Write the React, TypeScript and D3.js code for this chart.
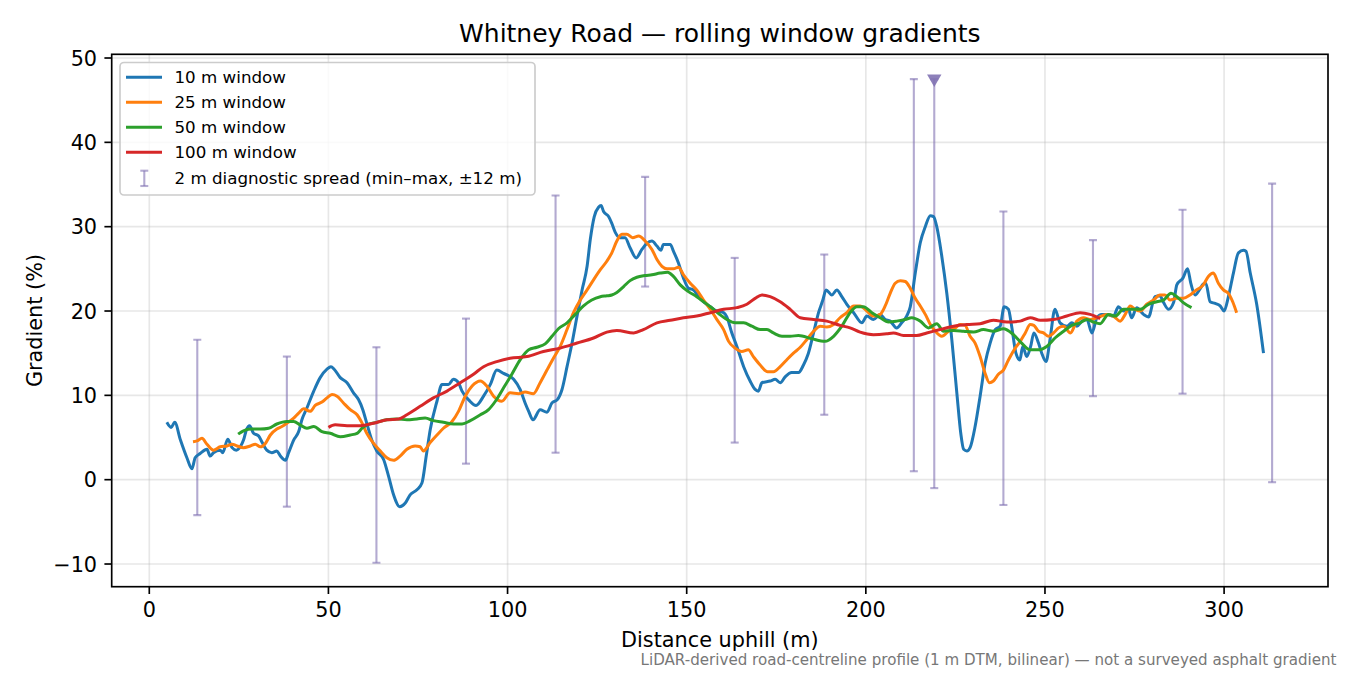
import React from 'react';
import * as d3 from 'd3';

const W = 1350;
const H = 675;
const AX = { left: 111.7, right: 1328, top: 54.3, bottom: 586.7 };
const FONT = 'DejaVu Sans, sans-serif';

// 10 m window
const dist10 = [4.9, 6.1, 7.1, 8.7, 10.5, 11.9, 12.8, 14.2, 16.1, 17.0, 17.9, 19.8, 20.5, 21.9, 23.1, 24.3, 25.4, 26.3, 27.1, 28.0, 29.1, 30.5, 31.4, 32.8, 34.2, 35.6, 36.6, 38.0, 38.9, 40.3, 41.7, 42.6, 44.0, 45.9, 47.7, 49.6, 50.7, 51.6, 53.3, 55.2, 57.0, 58.4, 59.6, 60.7, 62.1, 63.5, 65.4, 66.8, 68.2, 69.9, 71.4, 72.8, 74.7, 76.1, 77.3, 78.4, 80.3, 81.7, 83.5, 84.9, 86.3, 87.3, 89.3, 91.2, 93.3, 95.2, 97.0, 98.9, 101.7, 103.5, 104.9, 105.9, 107.1, 109.1, 111.0, 112.4, 113.9, 115.2, 116.6, 118.0, 119.4, 120.8, 122.2, 123.1, 124.2, 125.4, 126.1, 126.8, 128.2, 129.1, 130.1, 131.4, 132.8, 134.2, 135.9, 137.5, 138.8, 140.3, 141.7, 142.8, 143.5, 145.4, 146.3, 147.7, 149.1, 150.5, 151.9, 153.3, 154.7, 156.6, 158.4, 160.3, 161.2, 162.6, 164.0, 165.9, 167.7, 169.1, 170.0, 171.0, 173.3, 174.7, 176.1, 177.5, 179.3, 181.2, 182.6, 183.9, 185.4, 186.8, 188.0, 188.9, 190.5, 191.9, 193.3, 194.7, 196.6, 198.9, 200.3, 202.1, 204.0, 205.4, 206.8, 208.6, 210.0, 211.4, 212.4, 213.8, 215.2, 216.6, 218.0, 218.9, 219.8, 221.2, 222.6, 224.0, 225.4, 226.5, 227.3, 228.2, 229.1, 230.5, 231.9, 233.3, 234.7, 236.1, 237.5, 238.6, 239.8, 240.7, 241.9, 243.0, 243.8, 244.9, 246.0, 246.9, 248.2, 249.1, 250.3, 251.4, 252.8, 254.2, 256.1, 257.5, 258.9, 260.3, 261.7, 263.1, 264.5, 265.8, 267.3, 269.1, 270.5, 271.9, 273.3, 274.2, 275.6, 277.5, 278.9, 280.7, 282.1, 283.1, 284.5, 285.9, 286.8, 288.5, 289.8, 290.7, 291.9, 293.1, 294.2, 294.9, 296.1, 297.5, 298.9, 300.0, 301.2, 302.6, 304.0, 305.4, 306.1, 307.3, 309.1, 311.0];
const grad10 = [6.8, 6.2, 6.8, 4.7, 2.6, 1.3, 2.6, 3.1, 3.6, 2.8, 3.2, 3.5, 3.2, 4.8, 3.8, 3.5, 3.9, 4.7, 5.9, 6.4, 5.5, 5.2, 4.5, 3.5, 3.2, 3.4, 2.8, 2.3, 3.2, 4.7, 5.7, 7.1, 8.5, 10.5, 12.1, 13.1, 13.4, 13.1, 12.1, 11.5, 10.3, 9.5, 8.3, 6.7, 4.7, 3.4, 2.4, 0.4, -1.8, -3.2, -2.8, -1.8, -1.2, -0.4, 2.8, 5.9, 9.3, 11.3, 11.3, 11.9, 11.5, 10.5, 9.4, 8.8, 9.9, 11.3, 13.0, 12.6, 11.9, 10.7, 9.1, 8.1, 7.1, 8.3, 8.0, 9.1, 9.5, 10.7, 13.4, 16.2, 19.4, 22.5, 25.3, 28.5, 31.2, 32.3, 32.5, 31.8, 31.2, 30.4, 29.3, 28.7, 28.7, 27.5, 26.3, 27.3, 28.0, 28.3, 27.7, 27.2, 27.9, 27.9, 27.1, 25.7, 23.9, 22.7, 22.5, 21.7, 21.1, 20.5, 20.0, 19.8, 19.3, 17.4, 15.8, 13.4, 11.7, 10.7, 10.5, 11.5, 11.7, 11.9, 11.5, 12.2, 12.7, 12.7, 13.6, 14.9, 17.4, 19.8, 21.3, 22.5, 21.9, 22.5, 21.7, 20.8, 19.8, 18.6, 19.4, 19.0, 19.6, 19.0, 18.8, 18.0, 18.6, 19.4, 20.5, 24.5, 28.1, 30.0, 31.3, 31.2, 30.0, 26.5, 22.1, 16.6, 10.3, 5.5, 3.6, 3.4, 3.8, 6.3, 9.9, 13.8, 16.2, 17.8, 18.2, 20.5, 20.2, 18.2, 15.0, 14.2, 15.8, 14.6, 15.8, 17.4, 16.2, 15.0, 14.0, 16.6, 20.2, 18.6, 18.2, 18.6, 18.2, 18.8, 19.0, 17.4, 19.2, 19.6, 19.6, 19.4, 20.5, 20.0, 20.2, 19.2, 20.4, 19.6, 19.3, 21.7, 21.8, 21.0, 20.2, 21.0, 23.1, 23.9, 25.0, 23.3, 21.9, 22.5, 23.2, 23.3, 21.1, 20.9, 20.6, 20.0, 21.7, 24.5, 26.9, 27.2, 27.1, 24.5, 20.8, 15.0];

// 25 m window
const dist25 = [12.2, 13.3, 14.7, 16.1, 17.9, 19.8, 21.7, 23.1, 24.5, 26.3, 28.2, 29.6, 31.0, 32.4, 33.8, 35.6, 37.0, 38.4, 40.3, 41.7, 43.1, 44.9, 46.3, 48.2, 49.6, 51.0, 52.4, 54.2, 56.1, 58.0, 59.4, 60.7, 62.6, 64.5, 66.3, 68.2, 70.0, 71.9, 74.2, 75.6, 76.5, 78.4, 80.3, 82.1, 84.5, 86.3, 88.2, 90.1, 92.4, 94.2, 96.1, 98.4, 100.7, 103.1, 104.9, 107.2, 109.1, 111.0, 112.8, 114.7, 116.6, 118.4, 120.3, 122.2, 124.0, 125.9, 127.7, 129.1, 130.5, 131.9, 133.3, 134.9, 136.6, 138.4, 140.3, 141.7, 143.1, 144.5, 146.3, 147.7, 149.1, 151.0, 152.8, 154.7, 156.6, 158.4, 160.3, 161.7, 163.5, 165.4, 167.2, 168.6, 170.5, 172.6, 174.2, 176.1, 177.9, 179.8, 181.7, 183.5, 185.4, 187.3, 189.1, 191.0, 192.8, 194.7, 196.6, 198.4, 200.3, 202.1, 204.0, 205.4, 206.8, 208.2, 209.6, 211.0, 212.4, 213.8, 215.2, 216.6, 218.0, 219.4, 221.2, 223.1, 225.0, 226.3, 227.7, 229.1, 230.5, 231.9, 233.3, 234.5, 235.6, 237.0, 238.4, 239.8, 241.7, 243.1, 244.5, 245.9, 246.9, 248.2, 249.6, 251.0, 252.4, 253.8, 255.2, 257.1, 258.9, 260.8, 262.6, 264.5, 267.3, 269.1, 271.0, 272.4, 273.8, 275.2, 276.6, 278.4, 280.3, 282.1, 283.5, 284.9, 286.8, 288.6, 290.5, 292.3, 294.2, 295.6, 297.0, 298.4, 299.8, 301.2, 302.4, 303.5];
const grad25 = [4.5, 4.6, 4.9, 4.2, 3.5, 3.9, 4.0, 4.2, 4.0, 3.8, 4.0, 4.2, 3.9, 4.3, 5.3, 6.0, 6.3, 6.7, 7.3, 7.9, 8.4, 8.1, 8.8, 9.2, 9.7, 10.1, 9.9, 9.1, 8.3, 7.7, 6.7, 5.5, 4.3, 3.4, 2.6, 2.3, 2.8, 3.6, 4.0, 3.9, 3.4, 4.4, 5.3, 6.1, 6.9, 8.1, 9.9, 11.1, 11.7, 11.1, 9.9, 9.3, 10.3, 10.2, 10.4, 10.2, 11.5, 13.0, 14.4, 15.8, 17.8, 19.8, 21.3, 22.5, 23.7, 24.9, 25.9, 26.9, 28.3, 29.1, 29.1, 28.7, 28.9, 28.3, 27.3, 26.1, 25.3, 25.0, 25.0, 25.2, 24.3, 23.3, 22.5, 21.3, 20.2, 19.0, 17.8, 16.4, 15.6, 15.2, 15.4, 14.6, 13.6, 12.8, 12.8, 13.4, 14.2, 15.0, 15.7, 16.6, 17.6, 18.2, 18.1, 18.4, 19.2, 19.8, 20.6, 20.6, 20.0, 19.4, 19.6, 20.6, 22.1, 23.3, 23.6, 23.5, 22.7, 21.5, 20.6, 19.6, 18.4, 17.6, 17.0, 17.6, 18.0, 18.4, 18.3, 17.0, 16.2, 14.6, 12.6, 11.5, 11.7, 12.5, 13.0, 14.2, 15.6, 16.4, 17.4, 18.4, 18.3, 17.6, 17.4, 17.0, 17.4, 18.0, 18.2, 17.4, 18.8, 19.2, 19.0, 19.2, 19.6, 19.4, 18.8, 19.6, 20.6, 20.2, 20.0, 20.8, 21.3, 21.9, 21.9, 21.3, 21.5, 21.5, 21.9, 22.5, 23.1, 24.1, 24.5, 23.3, 22.5, 22.1, 21.1, 19.8];

// 50 m window
const dist50 = [24.8, 26.3, 28.2, 31.0, 33.3, 35.6, 38.4, 40.3, 42.1, 44.0, 45.9, 48.2, 50.5, 53.3, 56.1, 58.0, 59.4, 60.7, 63.5, 66.3, 69.1, 71.9, 74.7, 77.0, 79.3, 82.1, 84.9, 87.3, 89.6, 92.4, 94.7, 96.6, 98.9, 101.2, 103.5, 105.9, 108.2, 110.5, 112.4, 114.2, 116.6, 118.9, 121.2, 123.5, 125.9, 127.7, 129.1, 130.5, 132.4, 134.2, 136.1, 138.4, 140.3, 142.6, 144.7, 146.3, 148.2, 150.5, 152.8, 154.7, 156.6, 158.9, 161.2, 163.5, 165.9, 168.2, 170.5, 172.4, 174.2, 176.6, 178.9, 181.2, 185.0, 188.6, 191.0, 193.3, 195.6, 197.5, 199.3, 201.7, 204.0, 206.3, 208.6, 211.0, 212.8, 215.2, 217.5, 219.8, 221.7, 224.5, 227.3, 230.1, 232.8, 235.6, 238.4, 241.2, 243.5, 245.9, 248.2, 250.5, 252.8, 255.2, 257.5, 259.8, 261.7, 263.5, 265.4, 267.7, 269.6, 271.9, 274.2, 276.6, 278.9, 281.2, 283.1, 285.2, 286.8, 288.6, 290.9];
const grad50 = [5.4, 5.8, 6.0, 6.0, 6.1, 6.6, 6.9, 6.9, 6.5, 6.1, 6.3, 5.7, 5.5, 5.1, 5.3, 5.5, 6.1, 6.5, 6.8, 7.1, 7.2, 7.1, 7.2, 7.3, 7.0, 6.8, 6.6, 6.6, 7.0, 7.7, 8.3, 9.3, 10.9, 12.5, 14.2, 15.4, 15.7, 16.1, 17.0, 17.9, 18.6, 19.6, 20.6, 21.3, 21.7, 21.8, 21.9, 22.2, 22.9, 23.6, 24.0, 24.2, 24.3, 24.5, 24.6, 24.1, 23.1, 22.3, 21.7, 21.1, 20.5, 19.7, 19.0, 18.6, 18.6, 18.2, 17.8, 17.8, 17.4, 17.0, 17.0, 17.1, 16.7, 16.4, 17.0, 18.2, 19.8, 20.5, 20.5, 19.8, 19.2, 18.7, 18.8, 19.0, 19.2, 18.8, 18.0, 18.5, 17.6, 17.7, 17.6, 17.5, 17.8, 17.6, 17.9, 17.2, 16.2, 15.4, 15.4, 15.8, 16.8, 17.6, 18.3, 18.6, 19.0, 18.7, 18.5, 19.6, 19.4, 20.2, 20.2, 20.2, 20.8, 21.1, 21.3, 22.1, 21.7, 21.0, 20.4];

// 100 m window
const dist100 = [50.0, 51.9, 55.2, 58.9, 62.6, 66.3, 69.6, 71.9, 75.6, 79.3, 83.1, 86.8, 90.5, 93.3, 97.0, 100.7, 105.4, 110.0, 114.7, 119.4, 124.0, 127.7, 130.5, 135.2, 137.9, 141.7, 145.4, 149.1, 152.8, 156.6, 160.3, 164.0, 166.8, 169.1, 171.0, 173.3, 176.1, 178.9, 181.7, 185.4, 189.1, 192.8, 195.6, 198.4, 202.1, 205.8, 207.7, 210.5, 214.2, 217.0, 220.7, 224.5, 228.2, 231.9, 235.6, 239.4, 243.1, 245.9, 248.7, 252.4, 256.1, 259.8, 262.6, 265.4];
const grad100 = [6.2, 6.5, 6.4, 6.4, 6.7, 7.1, 7.2, 7.7, 8.7, 9.7, 10.5, 11.5, 12.5, 13.4, 14.0, 14.4, 14.6, 15.2, 15.6, 16.2, 16.8, 17.5, 17.7, 17.4, 17.8, 18.6, 18.9, 19.2, 19.4, 19.8, 20.2, 20.4, 20.8, 21.5, 21.9, 21.7, 21.1, 20.2, 19.2, 19.0, 18.8, 18.3, 18.0, 17.5, 17.2, 17.3, 17.4, 17.1, 17.1, 17.4, 17.8, 18.2, 18.4, 18.5, 18.9, 18.7, 18.8, 19.2, 18.9, 19.0, 19.4, 19.8, 19.6, 19.1];

// 2 m diagnostic spread (min–max over ±12 m)
const diagX = [13.4, 38.4, 63.4, 88.4, 113.4, 138.4, 163.4, 188.4, 213.4, 219.1, 238.4, 263.4, 288.4, 313.4];
const diagMin = [-4.2, -3.2, -9.85, 1.9, 3.2, 22.9, 4.4, 7.7, 1.0, -1.0, -3.0, 9.9, 10.2, -0.3];
const diagMax = [16.6, 14.6, 15.7, 19.1, 33.7, 35.9, 26.3, 26.7, 47.5, 47.5, 31.8, 28.4, 32.0, 35.1];
const clippedX = [219.1];
const clippedY = [47.5];

const xTicks = [0, 50, 100, 150, 200, 250, 300];
const yTicks = [-10, 0, 10, 20, 30, 40, 50];

const seriesNames = ['10 m window', '25 m window', '50 m window', '100 m window'];
const seriesColors = ['#1f77b4', '#ff7f0e', '#2ca02c', '#d62728'];
const seriesDist = [dist10, dist25, dist50, dist100];
const seriesGrad = [grad10, grad25, grad50, grad100];

const DIAG_COLOR = '#8172b2';

export default function App() {
  const x = d3.scaleLinear().domain([-10.49, 329.0]).range([AX.left, AX.right]);
  const y = d3.scaleLinear().domain([-12.69, 50.44]).range([AX.bottom, AX.top]);

  const line = d3
    .line<[number, number]>()
    .x((d) => x(d[0]))
    .y((d) => y(d[1]))
    .curve(d3.curveMonotoneX);

  const fmt = (v: number) => (v < 0 ? '\u2212' + Math.abs(v) : String(v));
  const tri = d3.symbol().type(d3.symbolTriangle).size(90)();

  const legendRows = [77.3, 102.3, 127.3, 152.3];

  return (
    <svg
      width={W}
      height={H}
      viewBox={`0 0 ${W} ${H}`}
      style={{ position: 'absolute', left: 0, top: 0, background: '#fff' }}
      fontFamily={FONT}
    >
      <rect x={0} y={0} width={W} height={H} fill="#fff" />
      <defs>
        <clipPath id="plotclip">
          <rect x={AX.left} y={AX.top} width={AX.right - AX.left} height={AX.bottom - AX.top} />
        </clipPath>
      </defs>

      {/* grid */}
      <g stroke="#b0b0b0" strokeOpacity={0.3} strokeWidth={1.67}>
        {xTicks.map((t) => (
          <line key={'gx' + t} x1={x(t)} x2={x(t)} y1={AX.top} y2={AX.bottom} />
        ))}
        {yTicks.map((t) => (
          <line key={'gy' + t} x1={AX.left} x2={AX.right} y1={y(t)} y2={y(t)} />
        ))}
      </g>

      <g clipPath="url(#plotclip)">
        {/* error bars */}
        <g stroke={DIAG_COLOR} strokeOpacity={0.6} strokeWidth={2.1}>
          {diagX.map((d, i) => (
            <g key={'eb' + i}>
              <line x1={x(d)} x2={x(d)} y1={y(diagMin[i])} y2={y(diagMax[i])} />
              <line x1={x(d) - 4} x2={x(d) + 4} y1={y(diagMin[i])} y2={y(diagMin[i])} />
              <line x1={x(d) - 4} x2={x(d) + 4} y1={y(diagMax[i])} y2={y(diagMax[i])} />
            </g>
          ))}
        </g>
        {/* lines */}
        {seriesDist.map((ds, si) => (
          <path
            key={'s' + si}
            d={line(ds.map((d, i) => [d, seriesGrad[si][i]] as [number, number])) || ''}
            fill="none"
            stroke={seriesColors[si]}
            strokeWidth={3}
            strokeLinejoin="round"
            strokeLinecap="butt"
          />
        ))}
        {/* clipped marker */}
        {clippedX.map((d, i) => (
          <path
            key={'cm' + i}
            d={tri || ''}
            transform={`translate(${x(d)},${y(clippedY[i]) - 0.5}) rotate(180)`}
            fill={DIAG_COLOR}
            fillOpacity={0.9}
          />
        ))}
      </g>

      {/* spines */}
      <rect
        x={AX.left}
        y={AX.top}
        width={AX.right - AX.left}
        height={AX.bottom - AX.top}
        fill="none"
        stroke="#000"
        strokeWidth={1.67}
      />

      {/* x ticks */}
      {xTicks.map((t) => (
        <g key={'xt' + t}>
          <line x1={x(t)} x2={x(t)} y1={AX.bottom} y2={AX.bottom + 7.3} stroke="#000" strokeWidth={1.67} />
          <text x={x(t)} y={617.3} textAnchor="middle" fontSize={20.8} fill="#000">
            {fmt(t)}
          </text>
        </g>
      ))}
      {/* y ticks */}
      {yTicks.map((t) => (
        <g key={'yt' + t}>
          <line x1={AX.left - 7.3} x2={AX.left} y1={y(t)} y2={y(t)} stroke="#000" strokeWidth={1.67} />
          <text x={AX.left - 14.6} y={y(t) + 7.6} textAnchor="end" fontSize={20.8} fill="#000">
            {fmt(t)}
          </text>
        </g>
      ))}

      {/* labels */}
      <text x={(AX.left + AX.right) / 2} y={42.3} textAnchor="middle" fontSize={25} fill="#000">
        Whitney Road — rolling window gradients
      </text>
      <text x={(AX.left + AX.right) / 2} y={646.7} textAnchor="middle" fontSize={20.8} fill="#000">
        Distance uphill (m)
      </text>
      <text
        transform={`translate(41.5,${(AX.top + AX.bottom) / 2}) rotate(-90)`}
        textAnchor="middle"
        fontSize={20.8}
        fill="#000"
      >
        Gradient (%)
      </text>
      <text x={1336.5} y={664.5} textAnchor="end" fontSize={15.1} fill="#777777">
        LiDAR-derived road-centreline profile (1 m DTM, bilinear) — not a surveyed asphalt gradient
      </text>

      {/* legend */}
      <g>
        <rect x={120} y={62.5} width={415} height={132.5} rx={4} fill="#fff" fillOpacity={0.8} stroke="#cccccc" strokeWidth={1.67} />
        {seriesNames.map((n, i) => (
          <g key={'lg' + i}>
            <line x1={126} x2={162} y1={legendRows[i]} y2={legendRows[i]} stroke={seriesColors[i]} strokeWidth={3} />
            <text x={174.5} y={legendRows[i] + 5.6} fontSize={16.7} fill="#000">
              {n}
            </text>
          </g>
        ))}
        <g stroke={DIAG_COLOR} strokeOpacity={0.6} strokeWidth={2.1}>
          <line x1={144.3} x2={144.3} y1={170.7} y2={186} />
          <line x1={140.3} x2={148.3} y1={170.7} y2={170.7} />
          <line x1={140.3} x2={148.3} y1={186} y2={186} />
        </g>
        <text x={174.5} y={184} fontSize={16.7} fill="#000">
          2 m diagnostic spread (min–max, ±12 m)
        </text>
      </g>
    </svg>
  );
}
